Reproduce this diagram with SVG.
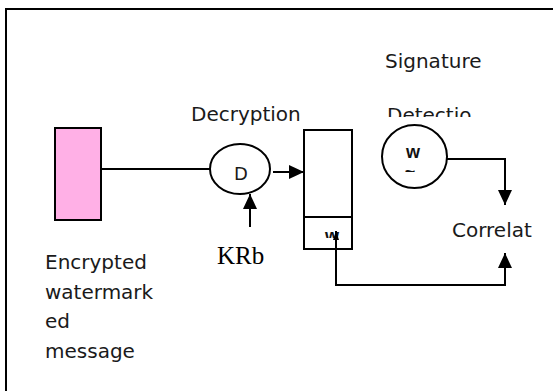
<svg xmlns="http://www.w3.org/2000/svg" width="553" height="391" viewBox="0 0 553 391">
  <style>
    .lbl { font-family: "DejaVu Sans", "Liberation Sans", sans-serif; font-size: 20px; fill: #1a1a1a; }
    .wb { font-family: "Liberation Sans", Arial, sans-serif; font-size: 18px; font-weight: bold; fill: #111; }
    .ln { fill: none; stroke: #000; stroke-width: 2; }
    .shape { stroke: #000; stroke-width: 2; }
  </style>
  <defs>
    <marker id="ah" markerUnits="userSpaceOnUse" markerWidth="15" markerHeight="14" refX="15" refY="7" orient="auto">
      <path d="M0,0 L15,7 L0,14 z" fill="#000"/>
    </marker>
    <marker id="ahs" markerUnits="userSpaceOnUse" markerWidth="9" markerHeight="6" refX="9" refY="3" orient="auto">
      <path d="M0,0 L9,3 L0,6 z" fill="#000"/>
    </marker>
    <clipPath id="clipDet"><rect x="380" y="95" width="120" height="22"/></clipPath>
    <clipPath id="clipTilde"><rect x="400" y="165" width="25" height="7"/></clipPath>
    <clipPath id="clipW2"><rect x="318" y="225" width="30" height="13"/></clipPath>
  </defs>

  <rect id="frame" x="6" y="9" width="560" height="400" fill="#fff" stroke="#000" stroke-width="2"/>

  <g id="connectors">
    <line class="ln" x1="99" y1="169" x2="210" y2="169"/>
    <line class="ln" x1="273" y1="172" x2="304" y2="172" marker-end="url(#ah)"/>
    <line class="ln" x1="250" y1="227" x2="250" y2="194" marker-end="url(#ah)"/>
    <polyline class="ln" points="447,159 505,159 505,205" marker-end="url(#ah)"/>
    <polyline class="ln" points="336,233 336,285 505,285 505,253" marker-end="url(#ah)"/>
  </g>

  <g id="message">
    <rect class="shape" x="55" y="128" width="46" height="92" fill="#ffb0e6"/>
    <text class="lbl" x="45" y="269">Encrypted</text>
    <text class="lbl" x="45" y="299">watermark</text>
    <text class="lbl" x="45" y="328">ed</text>
    <text class="lbl" x="45" y="358">message</text>
  </g>

  <g id="decryption">
    <text class="lbl" x="191" y="121">Decryption</text>
    <ellipse class="shape" cx="240" cy="169" rx="30" ry="25" fill="#fff"/>
    <text x="241" y="180" text-anchor="middle" style="font-family:'DejaVu Sans','Liberation Sans',sans-serif;font-size:18px;fill:#1a1a1a">D</text>
  </g>

  <g id="key">
    <text x="217" y="264" style="font-family:'Liberation Serif','Times New Roman',serif;font-size:25px;fill:#000">KRb</text>
  </g>

  <g id="buffer">
    <rect class="shape" x="304" y="130" width="48" height="119" fill="#fff"/>
    <line class="ln" x1="304" y1="217" x2="352" y2="217"/>
    <text class="wb" x="332" y="241.5" text-anchor="middle" clip-path="url(#clipW2)">w</text>
  </g>
  <line class="ln" x1="336" y1="250" x2="336" y2="231" marker-end="url(#ahs)"/>

  <g id="signature">
    <text class="lbl" x="385" y="68">Signature</text>
    <text class="lbl" x="387" y="122" clip-path="url(#clipDet)">Detectio</text>
    <ellipse class="shape" cx="414.5" cy="156.5" rx="32.5" ry="31.5" fill="#fff"/>
    <text class="wb" x="413" y="158" text-anchor="middle">w</text>
    <text class="wb" x="410" y="178" text-anchor="middle" clip-path="url(#clipTilde)">~</text>
  </g>

  <g id="correlation">
    <text class="lbl" x="452" y="237">Correlat</text>
  </g>
</svg>
